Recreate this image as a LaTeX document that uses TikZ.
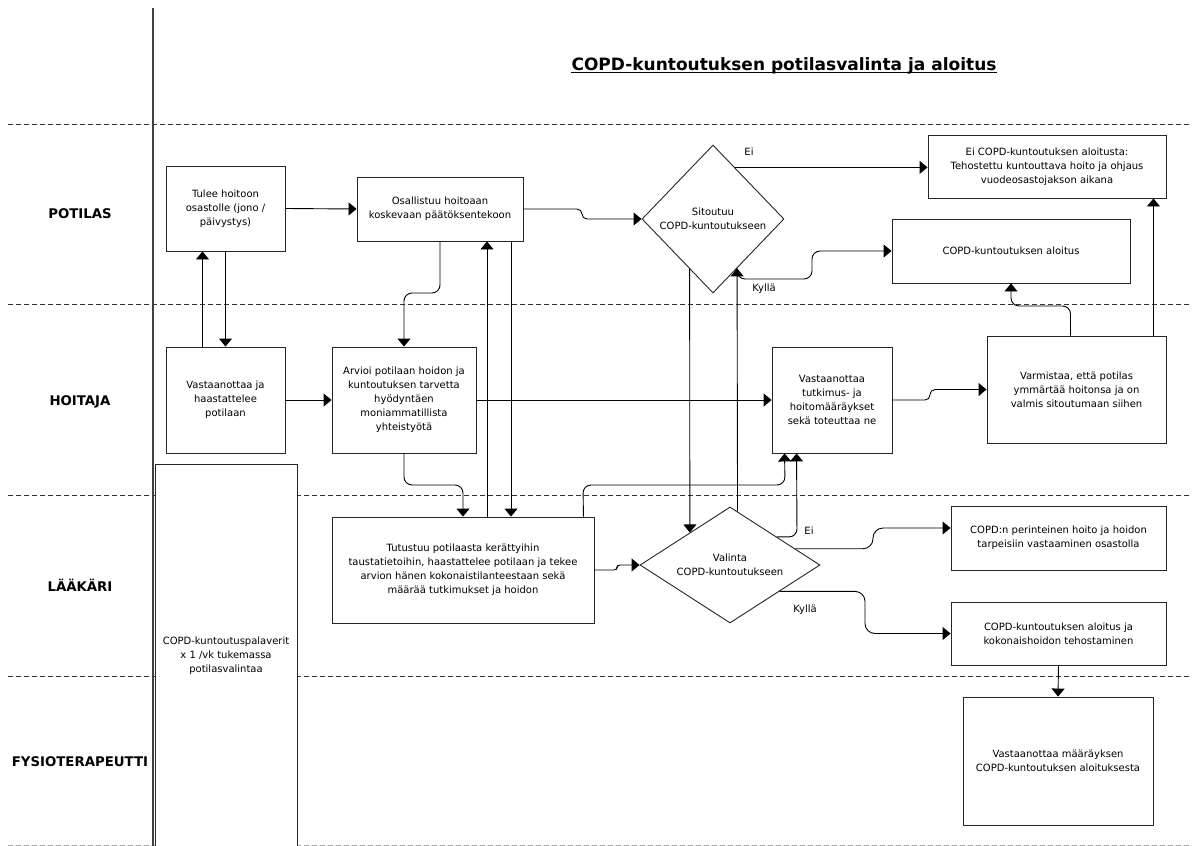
\documentclass[tikz,border=0pt]{standalone}
\usepackage{fontspec}
\setmainfont{DejaVu Sans}
\usetikzlibrary{shapes.geometric,arrows.meta,calc}
\begin{document}
\begin{tikzpicture}[x=1pt,y=-1pt,
  font=\fontsize{10}{14}\selectfont,
  box/.style={draw=black!85, line width=0.9pt, align=center, inner sep=2pt, rectangle, fill=white},
  dia/.style={draw=black!85, line width=0.9pt, diamond, inner sep=0pt},
  txt/.style={align=center, inner sep=0pt},
  conn/.style={draw=black, line width=0.9pt},
  arr/.style={conn, -{Triangle[width=13pt,length=8pt]}},
  lane/.style={font=\fontsize{13.3}{15}\selectfont\bfseries, inner sep=0pt},
  sep/.style={draw=black!80, line width=0.8pt, dash pattern=on 5pt off 3pt},
  lbl/.style={inner sep=0pt},
]
\useasboundingbox[fill=white] (0,0) rectangle (1192,846);

% lane separators
\draw[sep] (8,124) -- (1192,124);
\draw[sep] (8,304) -- (1192,304);
\draw[sep] (8,495) -- (1192,495);
\draw[sep] (8,676) -- (1192,676);
\draw[sep, draw=black!35] (8,845) -- (1192,845);
\draw[draw=black!75, line width=1.1pt] (153,8) -- (153,846);

% title
\node[font=\fontsize{17}{19}\selectfont\bfseries, inner sep=0pt, anchor=base] (title) at (784,70) {COPD-kuntoutuksen potilasvalinta ja aloitus};
\draw[line width=1.3pt] ([yshift=-2.8pt]title.base west) -- ([yshift=-2.8pt]title.base east);

% lane labels
\node[lane] (l1) at (80,214) {POTILAS};
\node[lane] (l2) at (80,402) {HOITAJA};
\node[lane] (l3) at (80,585) {LÄÄKÄRI};
\node[lane] (l4) at (80,762) {FYSIOTERAPEUTTI};

% boxes
\node[box, minimum width=119pt, minimum height=85pt] (A) at (225.5,208.5) {Tulee hoitoon\\osastolle (jono /\\päivystys)};
\node[box, minimum width=166pt, minimum height=64pt] (B) at (440,209) {Osallistuu hoitoaan\\koskevaan päätöksentekoon};
\node[dia, minimum width=142pt, minimum height=148pt] (S) at (713,219) {};
\node[txt] (St) at (S.center) {Sitoutuu\\COPD-kuntoutukseen};
\node[box, minimum width=238pt, minimum height=63pt] (C) at (1047,166.5) {Ei COPD-kuntoutuksen aloitusta:\\Tehostettu kuntouttava hoito ja ohjaus\\vuodeosastojakson aikana};
\node[box, minimum width=238pt, minimum height=64pt] (D) at (1011,251) {COPD-kuntoutuksen aloitus};
\node[box, minimum width=119pt, minimum height=106pt] (E) at (225.5,400) {Vastaanottaa ja\\haastattelee\\potilaan};
\node[box, minimum width=144pt, minimum height=106pt] (F) at (404,400) {Arvioi potilaan hoidon ja\\kuntoutuksen tarvetta\\hyödyntäen\\moniammatillista\\yhteistyötä};
\node[box, minimum width=120pt, minimum height=106pt] (G) at (832,400) {Vastaanottaa\\tutkimus- ja\\hoitomääräykset\\sekä toteuttaa ne};
\node[box, minimum width=179pt, minimum height=107pt] (H) at (1076.5,389.5) {Varmistaa, että potilas\\ymmärtää hoitonsa ja on\\valmis sitoutumaan siihen};
\node[box, minimum width=142pt, minimum height=384pt] (P) at (226,656) {COPD-kuntoutuspalaverit\\x 1 /vk tukemassa\\potilasvalintaa};
\node[box, minimum width=262pt, minimum height=106pt] (I) at (463,570) {Tutustuu potilaasta kerättyihin\\taustatietoihin, haastattelee potilaan ja tekee\\arvion hänen kokonaistilanteestaan sekä\\määrää tutkimukset ja hoidon};
\node[dia, minimum width=180pt, minimum height=116pt] (V) at (730,565) {};
\node[txt] (Vt) at (V.center) {Valinta\\COPD-kuntoutukseen};
\node[box, minimum width=215pt, minimum height=64pt] (J) at (1058.5,538) {COPD:n perinteinen hoito ja hoidon\\tarpeisiin vastaaminen osastolla};
\node[box, minimum width=215pt, minimum height=63pt] (K) at (1058.5,633.5) {COPD-kuntoutuksen aloitus ja\\kokonaishoidon tehostaminen};
\node[box, minimum width=190pt, minimum height=128pt] (L) at (1058,761) {Vastaanottaa määräyksen\\COPD-kuntoutuksen aloituksesta};

% connectors
\draw[arr] (A.east) -- (B.west);
\draw[arr, rounded corners=5pt] (B.east) -| (582,219) -- (S.west);
\draw[arr] (S.67) -- (S.67 -| C.west);
\draw[arr, rounded corners=8pt] (S.-64) |- (812,279) -- (812,251) -- (D.west);
\draw[arr] ([xshift=-23pt]E.north) -- ([xshift=-23pt]A.south);
\draw[arr] (A.south) -- (E.north);
\draw[arr] (E.east) -- (F.west);
\draw[arr, rounded corners=8pt] (B.south) -- (440,293) -- (404,293) -- (F.north);
\draw[arr] (F.east) -- (G.west);
\draw[arr, rounded corners=5pt] (G.east) -- (930,400) -- (930,389.5) -- (H.west);
\draw[arr] ([xshift=-13pt]H.north east) -- ([xshift=-13pt]C.south east);
\draw[arr, rounded corners=8pt] ([xshift=-6pt]H.north) -- (1070.5,306) -- (1011,306) -- (D.south);
\draw[arr, rounded corners=8pt] (F.south) -- (404,485) -- (463,485) -- (I.north);
\draw[arr] ([xshift=24pt]I.north) -- ([xshift=47pt]B.south);
\draw[arr] ([xshift=71pt]B.south) -- ([xshift=48pt]I.north);
\draw[arr, rounded corners=8pt] ([xshift=-11pt]I.north east) -- (583,485) -- (785,485) -- ([xshift=13pt]G.south west);
\draw[arr, rounded corners=3pt] (I.east) -- (617,570) -- (617,565) -- (V.west);
\draw[arr] (S.245) -- (V.141);
\draw[arr] (V.82.5) -- (S.-64);
\draw[arr, rounded corners=8pt] (V.31) -- (797,537) -- ([xshift=25pt]G.south west);
\draw[arr, rounded corners=10pt] (V.14) -| (873,528) -- ([yshift=10pt]J.west);
\draw[arr, rounded corners=10pt] (V.-28) -| (865,633.5) -- (K.west);
\draw[arr] (K.south) -- (L.north);

% connector labels
\node[lbl] (e1) at (749,152) {Ei};
\node[lbl] (k1) at (764,289) {Kyllä};
\node[lbl] (e2) at (809,531) {Ei};
\node[lbl] (k2) at (805,610) {Kyllä};
\end{tikzpicture}
\end{document}
